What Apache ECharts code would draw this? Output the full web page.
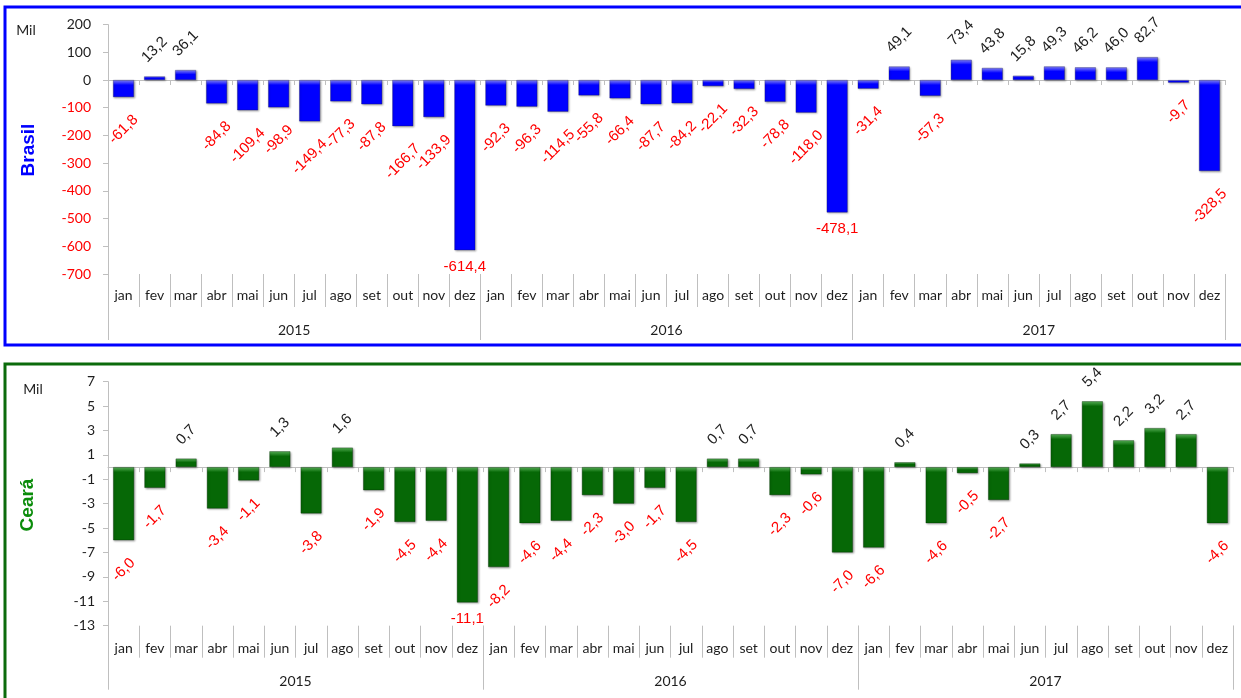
<!DOCTYPE html>
<html>
<head>
<meta charset="utf-8">
<script src="https://cdn.jsdelivr.net/npm/echarts@6/dist/echarts.min.js"></script>
<style>
  html, body { margin: 0; padding: 0; background: #ffffff; }
  #chart { width: 1241px; height: 698px; }
</style>
</head>
<body>
<div id="chart"></div>
<script>
// Saldo de empregos formais (mil) — Brasil e Ceará, jan/2015 a dez/2017
const months = ['jan', 'fev', 'mar', 'abr', 'mai', 'jun', 'jul', 'ago', 'set', 'out', 'nov', 'dez'];
const years = ['2015', '2016', '2017'];

const brasil2015 = [-61.8, 13.2, 36.1, -84.8, -109.4, -98.9, -149.4, -77.3, -87.8, -166.7, -133.9, -614.4];
const brasil2016 = [-92.3, -96.3, -114.5, -55.8, -66.4, -87.7, -84.2, -22.1, -32.3, -78.8, -118.0, -478.1];
const brasil2017 = [-31.4, 49.1, -57.3, 73.4, 43.8, 15.8, 49.3, 46.2, 46.0, 82.7, -9.7, -328.5];

const ceara2015 = [-6.0, -1.7, 0.7, -3.4, -1.1, 1.3, -3.8, 1.6, -1.9, -4.5, -4.4, -11.1];
const ceara2016 = [-8.2, -4.6, -4.4, -2.3, -3.0, -1.7, -4.5, 0.7, 0.7, -2.3, -0.6, -7.0];
const ceara2017 = [-6.6, 0.4, -4.6, -0.5, -2.7, 0.3, 2.7, 5.4, 2.2, 3.2, 2.7, -4.6];

const brasilTicks = [-700, -600, -500, -400, -300, -200, -100, 0, 100, 200];
const cearaTicks = [-13, -11, -9, -7, -5, -3, -1, 1, 3, 5, 7];

// Bars whose value label is written horizontally instead of slanted
const brasilFlatLabels = [11, 23];
const cearaFlatLabels = [11];

const brasil = brasil2015.concat(brasil2016, brasil2017);
const ceara = ceara2015.concat(ceara2016, ceara2017);
const monthCats = years.flatMap(y => months.map(m => y + ' ' + m));

const RED = '#ff0000';
const DARK = '#1e1e1e';
const AXIS_GRAY = '#bfbfbf';
const LABEL_FONT = '"Liberation Sans", Arial, sans-serif';
const AXIS_FONT = 'Lato, "Open Sans", sans-serif';

const fmt = v => v.toFixed(1).replace('.', ',');

const panels = [
  {
    values: brasil, ticks: brasilTicks, flat: brasilFlatLabels,
    grid: { left: 108, top: 24.6, width: 1117, height: 249.4 },
    base: '#0000ff', light: '#8a8aff', border: 'rgba(20,20,90,0.55)',
    tickColor: v => (v < 0 ? RED : DARK), yMargin: 17,
    monthTick: 33, yearTick: 66, monthMargin: 14, yearMargin: 49
  },
  {
    values: ceara, ticks: cearaTicks, flat: cearaFlatLabels,
    grid: { left: 108, top: 381.7, width: 1125, height: 244 },
    base: '#066806', light: '#5cb85c', border: 'rgba(0,40,0,0.6)',
    tickColor: () => DARK, yMargin: 13,
    monthTick: 32, yearTick: 64, monthMargin: 16, yearMargin: 49
  }
];

const grids = [], xAxes = [], yAxes = [], series = [];

panels.forEach((p, g) => {
  grids.push(Object.assign({ containLabel: false }, p.grid));
  const yMin = p.ticks[0], yMax = p.ticks[p.ticks.length - 1];
  const pxPerUnit = p.grid.height / (yMax - yMin);

  // month labels with dividers below the plot
  xAxes.push({
    type: 'category', gridIndex: g, position: 'bottom', data: monthCats,
    axisLine: { show: false, onZero: false },
    axisTick: { show: true, interval: 0, length: p.monthTick, lineStyle: { color: AXIS_GRAY } },
    axisLabel: {
      interval: 0, margin: p.monthMargin, fontFamily: AXIS_FONT, fontSize: 14, color: DARK,
      formatter: v => v.split(' ')[1]
    }
  });
  // year groups
  xAxes.push({
    type: 'category', gridIndex: g, position: 'bottom', data: years,
    axisLine: { show: false, onZero: false },
    axisTick: { show: true, interval: 0, length: p.yearTick, lineStyle: { color: AXIS_GRAY } },
    axisLabel: { interval: 0, margin: p.yearMargin, fontFamily: AXIS_FONT, fontSize: 14, color: DARK }
  });
  // zero line with small ticks between months
  xAxes.push({
    type: 'category', gridIndex: g, position: 'bottom', data: monthCats,
    axisLine: { show: true, onZero: true, lineStyle: { color: AXIS_GRAY, width: 1 } },
    axisTick: { show: true, interval: 0, length: 5, lineStyle: { color: AXIS_GRAY } },
    axisLabel: { show: false }
  });

  yAxes.push({
    type: 'value', gridIndex: g, min: yMin, max: yMax,
    axisLine: { show: true, onZero: false, lineStyle: { color: AXIS_GRAY } },
    axisTick: { show: true, length: 5, lineStyle: { color: AXIS_GRAY }, customValues: p.ticks },
    axisLabel: {
      customValues: p.ticks, margin: p.yMargin, fontFamily: AXIS_FONT, fontSize: 14,
      color: v => p.tickColor(v), formatter: v => String(v)
    },
    splitLine: { show: false }
  });

  const bevel = v => {
    const h = Math.max(Math.abs(v) * pxPerUnit, 0.5);
    const s = Math.min(0.45, 5 / h);
    return {
      type: 'linear', x: 0, y: 0, x2: 0, y2: 1,
      colorStops: [
        { offset: 0, color: p.light },
        { offset: s, color: p.base },
        { offset: 1, color: p.base }
      ]
    };
  };

  const vals = p.values;
  series.push({
    type: 'bar',
    xAxisIndex: g * 3, yAxisIndex: g,
    barWidth: 21,
    data: vals.map((v, i) => ({
      value: v,
      itemStyle: { color: bevel(v) },
      label: { color: v < 0 ? RED : DARK, rotate: p.flat.includes(i) ? 0 : 45 }
    })),
    itemStyle: {
      borderColor: p.border, borderWidth: 0.6,
      shadowColor: 'rgba(0,0,0,0.35)', shadowBlur: 2, shadowOffsetX: 1, shadowOffsetY: 1
    },
    label: {
      show: true, position: 'top', fontFamily: LABEL_FONT, fontSize: 15,
      align: 'center', verticalAlign: 'middle',
      formatter: q => fmt(q.value)
    },
    labelLayout: q => {
      const v = vals[q.dataIndex];
      const r = q.rect, lr = q.labelRect;
      const top = Math.min(r.y, r.y + r.height);
      const bot = Math.max(r.y, r.y + r.height);
      const cx = r.x + r.width / 2;
      const flat = p.flat.includes(q.dataIndex);
      if (v >= 0) {
        return { x: cx, y: top - 11 - lr.height / 2, align: 'center', verticalAlign: 'middle' };
      }
      return { x: cx, y: bot + (flat ? 9 : 15) + lr.height / 2, align: 'center', verticalAlign: 'middle' };
    },
    animation: false
  });
});

const chart = echarts.init(document.getElementById('chart'), null, { renderer: 'canvas' });
chart.setOption({
  animation: false,
  backgroundColor: '#ffffff',
  grid: grids,
  xAxis: xAxes,
  yAxis: yAxes,
  series: series,
  graphic: [
    { type: 'rect', shape: { x: 5, y: 7, width: 1250, height: 338 },
      style: { fill: 'none', stroke: '#0000ff', lineWidth: 3 }, silent: true },
    { type: 'rect', shape: { x: 5, y: 364, width: 1250, height: 400 },
      style: { fill: 'none', stroke: '#0b6b0b', lineWidth: 3 }, silent: true },
    { type: 'text', x: 26, y: 30,
      style: { text: 'Mil', font: '14px Lato', fill: DARK, align: 'center', verticalAlign: 'middle' } },
    { type: 'text', x: 33, y: 389,
      style: { text: 'Mil', font: '14px Lato', fill: DARK, align: 'center', verticalAlign: 'middle' } },
    { type: 'text', x: 29, y: 150, rotation: Math.PI / 2,
      style: { text: 'Brasil', font: 'bold 19px "Liberation Sans"', fill: '#0000ff', align: 'center', verticalAlign: 'middle' } },
    { type: 'text', x: 28, y: 505, rotation: Math.PI / 2,
      style: { text: 'Ceará', font: 'bold 19px "Liberation Sans"', fill: '#0a8c0a', align: 'center', verticalAlign: 'middle' } }
  ]
});
</script>
</body>
</html>
